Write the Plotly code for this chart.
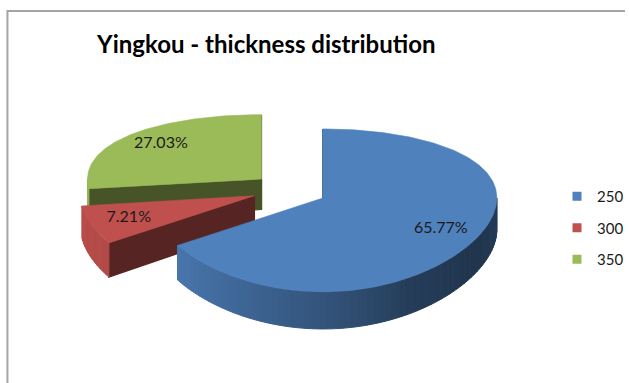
import math
import plotly.graph_objects as go

# Thickness classes and how many samples fall in each
thickness = ["250", "300", "350"]
counts = [73, 8, 30]
slice_colors = ["#4F81BD", "#C0504D", "#9BBB59"]

chart_title = "Yingkou - thickness distribution"

# ---- 3D pie styling ----
W, H = 629, 383
CX, CY = 291.6, 189.9      # pie centre on the canvas
RX, RY = 175.0, 77.1       # horizontal / vertical radius of the tilted disc
PERSP = 0.15               # foreshortening of the far side
DEPTH = 31.0               # thickness of the disc
EXPLODE = 0.217            # every slice pulled out by this fraction of the radius
LABEL_R = 0.77             # label distance from the slice apex
FACE_SHADE = 0.45          # darkening of the cut (radial) faces
# brightness of the curved rim by its facing angle (degrees, clockwise from back)
RIM_SHADE = [(90, 0.47), (120, 0.41), (150, 0.47), (180, 0.65),
             (210, 0.80), (240, 0.93), (270, 0.96)]


def project(u, v, h=0.0):
    """u: right, v: away from viewer, h: 0 top surface .. 1 bottom surface."""
    w = 1.0 + PERSP * v
    return CX + RX * u, CY + (-RY * v + DEPTH * h) / w


def hex_rgb(c):
    c = c.lstrip("#")
    return tuple(int(c[i:i + 2], 16) for i in (0, 2, 4))


def shade(c, f):
    r, g, b = hex_rgb(c)
    return "rgb(%d,%d,%d)" % (round(r * f), round(g * f), round(b * f))


def rim_factor(deg):
    if deg <= RIM_SHADE[0][0]:
        return RIM_SHADE[0][1]
    for (a0, f0), (a1, f1) in zip(RIM_SHADE, RIM_SHADE[1:]):
        if deg <= a1:
            t = (deg - a0) / (a1 - a0)
            return f0 + t * (f1 - f0)
    return RIM_SHADE[-1][1]


def poly(xs, ys, color, lw=0.8):
    return go.Scatter(x=xs, y=ys, fill="toself", fillcolor=color, mode="lines",
                      line=dict(color=color, width=lw), hoverinfo="skip",
                      showlegend=False)


total = sum(counts)
slices = []
start = 0.0
for name, n, col in zip(thickness, counts, slice_colors):
    sweep = 360.0 * n / total
    a0, a1 = start, start + sweep
    mid = math.radians((a0 + a1) / 2)
    slices.append(dict(name=name, n=n, col=col, a0=a0, a1=a1,
                       ou=EXPLODE * math.sin(mid), ov=EXPLODE * math.cos(mid),
                       mid=mid))
    start = a1

fig = go.Figure()

# paint from the back of the pie towards the viewer
for s in sorted(slices, key=lambda s: -s["ov"]):
    ou, ov, col = s["ou"], s["ov"], s["col"]

    def rim(deg, h):
        r = math.radians(deg)
        return project(ou + math.sin(r), ov + math.cos(r), h)

    apex_top = project(ou, ov, 0)
    apex_bot = project(ou, ov, 1)

    # cut faces that turn towards the viewer
    for ang, normal in ((s["a0"], s["a0"] - 90), (s["a1"], s["a1"] + 90)):
        if math.cos(math.radians(normal)) < 0.05:
            p1, p2 = rim(ang, 0), rim(ang, 1)
            xs = [apex_top[0], p1[0], p2[0], apex_bot[0], apex_top[0]]
            ys = [apex_top[1], p1[1], p2[1], apex_bot[1], apex_top[1]]
            fig.add_trace(poly(xs, ys, shade(col, FACE_SHADE), lw=1.4))

    # visible part of the curved rim
    lo, hi = max(s["a0"], 90.0), min(s["a1"], 270.0)
    if hi > lo:
        nseg = max(1, int(math.ceil((hi - lo) / 2.0)))
        step = (hi - lo) / nseg
        for i in range(nseg):
            d0, d1 = lo + i * step, lo + (i + 1) * step
            q = [rim(d0, 0), rim(d1, 0), rim(d1, 1), rim(d0, 1), rim(d0, 0)]
            fig.add_trace(poly([p[0] for p in q], [p[1] for p in q],
                               shade(col, rim_factor((d0 + d1) / 2)), lw=1.0))

    # top surface
    n_arc = max(2, int(math.ceil(s["a1"] - s["a0"])))
    pts = [apex_top] + [rim(s["a0"] + (s["a1"] - s["a0"]) * i / n_arc, 0)
                        for i in range(n_arc + 1)] + [apex_top]
    fig.add_trace(poly([p[0] for p in pts], [p[1] for p in pts], col, lw=0.6))

# percentage labels
for s in slices:
    lx, ly = project(s["ou"] + LABEL_R * math.sin(s["mid"]),
                     s["ov"] + LABEL_R * math.cos(s["mid"]), 0)
    fig.add_trace(go.Scatter(x=[lx], y=[ly], mode="text",
                             text=["%.2f%%" % (100.0 * s["n"] / total)],
                             textposition="middle center",
                             textfont=dict(family="Lato", size=16, color="#1a1a1a"),
                             hoverinfo="skip", showlegend=False))

# legend entries
for name, col in zip(thickness, slice_colors):
    fig.add_trace(go.Scatter(x=[None], y=[None], mode="markers", name=name,
                             legendgroup=name,
                             marker=dict(symbol="square", size=9, color=col)))

fig.update_layout(
    width=W, height=H, autosize=False,
    margin=dict(l=0, r=0, t=0, b=0),
    paper_bgcolor="white", plot_bgcolor="white",
    xaxis=dict(range=[0, W], visible=False, fixedrange=True),
    yaxis=dict(range=[H, 0], visible=False, fixedrange=True),
    title=dict(text="<b>%s</b>" % chart_title, x=268 / W, y=1 - 45 / H,
               xanchor="center", yanchor="middle", xref="paper", yref="paper",
               font=dict(family="Lato", size=24, color="#000000")),
    legend=dict(x=561 / W, y=1 - 180 / H, xanchor="left", yanchor="top",
                font=dict(family="Lato", size=15, color="#1a1a1a"),
                tracegroupgap=9, bgcolor="rgba(0,0,0,0)", itemwidth=30),
    shapes=[dict(type="path", path="M 7.5 %d L 7.5 11 L %d 11" % (H, W),
                 xref="x", yref="y", line=dict(color="#A5A5A5", width=2))],
)

fig.write_html("out.html")
